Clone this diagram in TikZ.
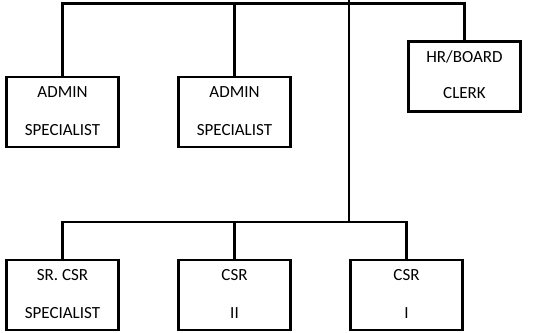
\documentclass[tikz,border=0pt]{standalone}
\usepackage{fontspec}
\setmainfont{Carlito}
\begin{document}
\begin{tikzpicture}[x=1pt,y=-1pt,
  line width=2.6pt, line join=miter,
  orgbox/.style={draw, rectangle, minimum width=112.5pt, minimum height=70pt, inner sep=0pt},
  lbl/.style={anchor=base, inner sep=0pt, font=\fontsize{17}{20}\selectfont}]
\useasboundingbox (0,0) rectangle (545,332);
% boxes
\node[orgbox] (a1) at (62.5,112) {};
\node[orgbox] (a2) at (234.5,112) {};
\node[orgbox] (hr) at (464.5,76.5) {};
\node[orgbox] (sr) at (62.5,295) {};
\node[orgbox] (c2) at (234.5,295) {};
\node[orgbox] (c1) at (406.5,295) {};
% texts
\node[lbl] (a1t1) at ([yshift=-22pt]a1.north) {ADMIN};
\node[lbl] (a1t2) at ([yshift=-59.4pt]a1.north) {SPECIALIST};
\node[lbl] (a2t1) at ([yshift=-22pt]a2.north) {ADMIN};
\node[lbl] (a2t2) at ([yshift=-59.4pt]a2.north) {SPECIALIST};
\node[lbl] (hrt1) at ([yshift=-22pt]hr.north) {HR/BOARD};
\node[lbl] (hrt2) at ([yshift=-58.5pt]hr.north) {CLERK};
\node[lbl] (srt1) at ([yshift=-22pt]sr.north) {SR. CSR};
\node[lbl] (srt2) at ([yshift=-59.4pt]sr.north) {SPECIALIST};
\node[lbl] (c2t1) at ([yshift=-22pt]c2.north) {CSR};
\node[lbl] (c2t2) at ([yshift=-59.4pt]c2.north) {II};
\node[lbl] (c1t1) at ([yshift=-22pt]c1.north) {CSR};
\node[lbl] (c1t2) at ([yshift=-59.4pt]c1.north) {I};
% connectors
\coordinate (top) at (349,0);
\coordinate (t) at (349,3.5);
\coordinate (hub) at (349,222);
\draw (top) -- (hub);
\draw (a1.north) |- (t) -| (hr.north);
\draw (a2.north) -- (a2.north |- t);
\draw (sr.north) |- (hub) -| (c1.north);
\draw (c2.north) -- (c2.north |- hub);
\end{tikzpicture}
\end{document}
